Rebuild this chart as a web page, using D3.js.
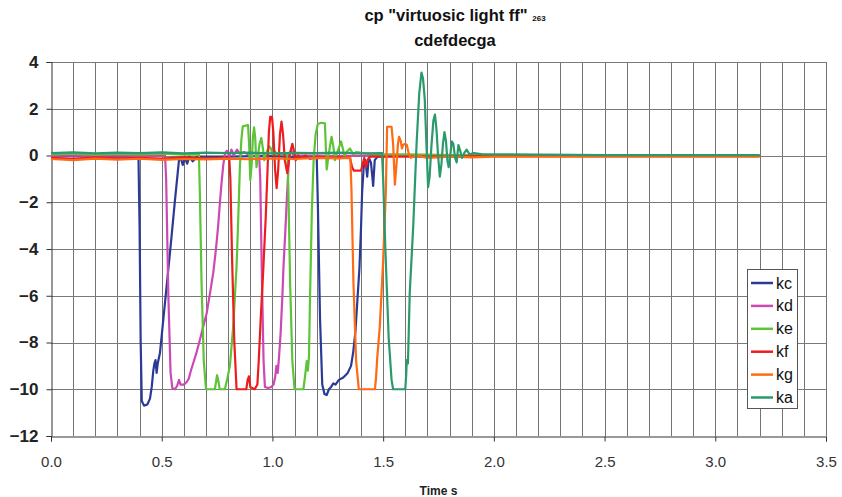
<!DOCTYPE html>
<html>
<head>
<meta charset="utf-8">
<script src="https://cdn.jsdelivr.net/npm/d3@7/dist/d3.min.js"></script>
<style>
  html, body { margin: 0; padding: 0; background: #fff; }
  svg { display: block; }
  text { font-family: "Liberation Sans", Arial, sans-serif; }
</style>
</head>
<body>
<svg id="chart" width="842" height="497"></svg>
<script>
// Key sensor traces, value vs time in seconds: [time, value]
const seriesNames = ["kc", "kd", "ke", "kf", "kg", "ka"];
const seriesColors = ["#2b3a96", "#cc48b4", "#5cc436", "#ee1c1c", "#ff6a13", "#2a9a6c"];

const kc = [
  [0,-0.05],[0.1,-0.02],[0.2,-0.07],[0.3,-0.03],[0.395,-0.05],
  [0.400,-3.0],[0.405,-8.0],[0.41,-10.5],[0.42,-10.7],[0.435,-10.65],[0.447,-10.4],[0.455,-9.9],[0.462,-9.2],
  [0.467,-8.9],[0.472,-8.75],[0.477,-9.3],[0.482,-8.9],[0.492,-8.45],[0.50,-7.7],[0.52,-5.8],[0.54,-3.9],
  [0.56,-1.9],[0.578,-0.2],[0.586,-0.1],[0.595,-0.4],[0.605,-0.1],[0.615,-0.35],[0.625,-0.05],[0.64,-0.25],
  [0.66,-0.05],[0.8,-0.05],[0.95,-0.02],[1.1,-0.06],[1.2,-0.05],
  [1.205,-2.0],[1.215,-7.0],[1.225,-9.8],[1.235,-10.2],[1.245,-10.25],[1.255,-10.0],[1.265,-9.9],[1.275,-9.75],
  [1.285,-9.8],[1.30,-9.6],[1.32,-9.5],[1.34,-9.3],[1.355,-9.0],[1.365,-8.4],[1.375,-7.5],[1.385,-6.0],
  [1.393,-4.8],[1.40,-3.1],[1.405,-1.6],[1.412,-0.5],[1.42,-0.2],[1.428,-0.9],[1.435,-0.1],[1.445,-0.3],
  [1.455,-1.3],[1.462,-0.2],[1.475,-0.05],[1.6,0.0],[2.0,-0.02],[3.2,-0.02]
];

const kd = [
  [0,-0.02],[0.1,0.0],[0.2,-0.04],[0.3,0.0],[0.4,-0.03],[0.515,0.0],
  [0.52,-1.0],[0.53,-6.0],[0.54,-9.3],[0.548,-9.95],[0.56,-10.0],[0.57,-9.85],[0.578,-9.6],[0.585,-9.8],
  [0.6,-9.8],[0.612,-9.7],[0.622,-9.55],[0.632,-9.2],[0.645,-8.8],[0.655,-8.5],[0.672,-7.9],[0.688,-7.3],
  [0.703,-6.75],[0.718,-5.9],[0.733,-5.0],[0.745,-4.0],[0.755,-3.0],[0.763,-2.0],[0.77,-1.2],[0.778,-0.4],
  [0.786,0.1],[0.795,0.2],[0.805,-0.05],[0.815,0.25],[0.825,0.0],[0.84,0.25],[0.855,0.05],[0.87,0.15],
  [0.9,0.0],[0.94,0.0],
  [0.945,-1.0],[0.952,-5.0],[0.96,-8.8],[0.966,-9.9],[0.98,-9.95],[0.995,-9.9],[1.005,-9.8],[1.012,-9.5],
  [1.018,-9.0],[1.024,-9.3],[1.03,-8.6],[1.037,-7.6],[1.045,-6.0],[1.05,-4.75],[1.058,-3.3],[1.065,-1.9],
  [1.072,-0.6],[1.077,0.1],[1.085,0.2],[1.095,0.0],[1.2,0.0],[1.3,-0.02],[1.5,0.0],[3.2,0.0]
];

const ke = [
  [0,0.05],[0.1,0.08],[0.2,0.04],[0.3,0.07],[0.4,0.05],[0.5,0.08],[0.6,0.04],[0.668,0.05],
  [0.672,-1.5],[0.68,-5.5],[0.69,-8.8],[0.70,-10.0],[0.72,-10.0],[0.74,-10.0],[0.745,-9.7],[0.75,-9.4],
  [0.755,-9.6],[0.762,-10.0],[0.785,-10.0],[0.795,-9.6],[0.808,-9.0],[0.823,-7.3],[0.838,-4.75],[0.846,-2.6],
  [0.853,-0.5],[0.86,0.7],[0.866,1.25],[0.89,1.3],[0.895,0.4],[0.90,-1.05],[0.906,-0.4],[0.912,0.8],
  [0.917,1.2],[0.922,0.8],[0.928,-0.5],[0.935,0.0],[0.942,0.5],[0.95,0.75],[0.957,0.3],[0.963,-0.2],
  [0.972,0.1],[0.985,0.4],[0.993,0.3],[1.0,0.05],[1.01,0.2],[1.02,0.05],[1.05,0.08],[1.068,0.05],
  [1.072,-1.5],[1.08,-5.5],[1.09,-8.8],[1.10,-10.0],[1.14,-10.0],[1.148,-9.4],[1.155,-8.8],[1.16,-9.2],
  [1.165,-8.6],[1.17,-6.0],[1.178,-2.4],[1.186,-0.2],[1.195,0.9],[1.205,1.35],[1.22,1.4],[1.237,1.38],
  [1.245,-0.6],[1.255,0.1],[1.267,0.8],[1.275,0.4],[1.282,-0.2],[1.295,0.2],[1.31,0.6],[1.318,0.3],
  [1.325,-0.05],[1.335,0.15],[1.35,0.3],[1.365,0.05],[1.38,0.15],[1.45,0.05],[1.6,0.05],[2.0,0.0],[3.2,0.0]
];

const kf = [
  [0,-0.1],[0.1,-0.14],[0.2,-0.08],[0.3,-0.12],[0.4,-0.1],[0.5,-0.13],[0.6,-0.08],[0.7,-0.12],[0.805,-0.1],
  [0.81,-1.0],[0.818,-4.5],[0.828,-8.0],[0.838,-10.0],[0.865,-10.0],[0.882,-10.0],[0.888,-9.6],[0.894,-9.45],
  [0.9,-9.9],[0.92,-10.0],[0.932,-9.8],[0.938,-8.8],[0.948,-6.8],[0.958,-5.0],[0.97,-2.6],[0.978,-0.6],
  [0.984,1.0],[0.99,1.65],[0.998,1.65],[1.004,1.0],[1.012,-0.6],[1.019,-1.4],[1.026,-0.6],[1.034,0.9],
  [1.041,1.45],[1.048,0.9],[1.056,-0.2],[1.067,-0.75],[1.077,0.0],[1.09,0.5],[1.097,0.2],[1.105,-0.2],
  [1.115,0.0],[1.13,-0.1],[1.15,0.0],[1.17,-0.15],[1.2,-0.05],[1.25,-0.1],[1.3,-0.08],[1.35,-0.1],
  [1.36,-0.5],[1.368,-0.65],[1.40,-0.65],[1.408,-0.35],[1.415,-0.1],[1.422,-0.5],[1.43,-0.2],[1.44,-0.05],
  [1.5,-0.05],[1.6,-0.05],[2.0,-0.03],[3.2,-0.03]
];

const kg = [
  [0,-0.15],[0.1,-0.2],[0.2,-0.13],[0.3,-0.18],[0.4,-0.14],[0.5,-0.19],[0.6,-0.15],[0.7,-0.17],[0.8,-0.13],
  [0.9,-0.16],[1.0,-0.12],[1.1,-0.15],[1.2,-0.1],[1.3,-0.12],[1.352,-0.1],
  [1.357,-1.5],[1.366,-5.5],[1.378,-8.8],[1.39,-10.0],[1.463,-10.0],[1.468,-9.5],[1.473,-8.7],[1.485,-7.3],
  [1.50,-4.5],[1.512,-1.6],[1.518,1.23],[1.538,1.23],[1.545,0.5],[1.553,-1.25],[1.56,-0.4],[1.567,0.5],
  [1.572,0.8],[1.58,0.6],[1.585,0.3],[1.59,0.45],[1.60,0.5],[1.607,0.45],[1.615,0.1],[1.625,-0.1],
  [1.65,0.0],[1.7,-0.1],[1.8,-0.05],[1.9,-0.08],[2.0,-0.05],[2.5,-0.05],[3.2,-0.05]
];

const ka = [
  [0,0.1],[0.1,0.13],[0.2,0.09],[0.3,0.12],[0.4,0.1],[0.5,0.13],[0.6,0.09],[0.7,0.12],[0.8,0.1],
  [0.9,0.12],[1.0,0.09],[1.1,0.11],[1.2,0.1],[1.3,0.12],[1.4,0.09],[1.495,0.1],
  [1.50,-1.0],[1.51,-4.0],[1.525,-7.8],[1.538,-9.6],[1.545,-10.0],[1.60,-10.0],[1.604,-9.4],[1.607,-8.75],
  [1.612,-8.9],[1.62,-5.9],[1.636,-3.0],[1.651,0.5],[1.663,2.65],[1.673,3.55],[1.68,3.3],[1.688,2.4],
  [1.695,0.6],[1.703,-1.35],[1.71,-0.9],[1.718,0.4],[1.727,1.5],[1.734,1.75],[1.741,1.1],[1.748,0.0],
  [1.756,-0.9],[1.763,-0.4],[1.77,0.5],[1.777,1.0],[1.784,0.6],[1.79,-0.2],[1.796,-0.5],[1.803,0.0],
  [1.81,0.6],[1.817,0.5],[1.825,-0.1],[1.832,-0.3],[1.84,0.45],[1.848,0.2],[1.856,-0.1],[1.866,0.1],
  [1.877,0.25],[1.89,0.05],[1.91,0.1],[1.95,0.05],[2.0,0.05],[2.5,0.02],[3.2,0.02]
];

const seriesData = [kc, kd, ke, kf, kg, ka];

// Axis tick values and labels
const timeTicks = [0, 0.5, 1.0, 1.5, 2.0, 2.5, 3.0, 3.5];
const valueTicks = [-12, -10, -8, -6, -4, -2, 0, 2, 4];
const titleMain = "cp \"virtuosic light ff\"";
const titleNote = "263";
const titleSub = "cdefdecga";
const xAxisTitle = "Time s";

const svg = d3.select("#chart");
const margin = { left: 51, right: 16, top: 62, bottom: 61 };
const W = 842, H = 497;

const x = d3.scaleLinear().domain([0, 3.5]).range([margin.left, W - margin.right]);
const y = d3.scaleLinear().domain([-12, 4]).range([H - margin.bottom, margin.top]);

// Gridlines: every 0.1 s vertically, every 2 units horizontally
const grid = svg.append("g").attr("class", "grid");
grid.selectAll("line.v")
  .data(x.ticks(35).filter(t => t > 0))
  .join("line")
  .attr("class", "v")
  .attr("x1", d => Math.round(x(d)) + 0.5).attr("x2", d => Math.round(x(d)) + 0.5)
  .attr("y1", y(4)).attr("y2", y(-12))
  .attr("stroke", "#747474").attr("stroke-width", 1);
grid.selectAll("line.h")
  .data(valueTicks.filter(v => v > -12))
  .join("line")
  .attr("class", "h")
  .attr("x1", x(0)).attr("x2", x(3.5))
  .attr("y1", d => Math.round(y(d)) + 0.5).attr("y2", d => Math.round(y(d)) + 0.5)
  .attr("stroke", "#7a7a7a").attr("stroke-width", 1);

// Axes
const xAxis = d3.axisBottom(x).tickValues(timeTicks).tickFormat(d3.format(".1f")).tickSize(5).tickPadding(15);
const yAxis = d3.axisLeft(y).tickValues(valueTicks).tickFormat(d3.format("d")).tickSize(5).tickPadding(8);

const gx = svg.append("g").attr("transform", `translate(0,${Math.round(y(-12)) + 0.5})`).call(xAxis);
gx.select(".domain").attr("stroke", "#333");
gx.selectAll(".tick line").attr("stroke", "#333");
gx.selectAll(".tick text").attr("font-size", 15).attr("fill", "#333")
  .attr("font-family", "'Liberation Sans', Arial, sans-serif");

const gy = svg.append("g").attr("transform", `translate(${Math.round(x(0)) + 0.5},0)`).call(yAxis);
gy.select(".domain").attr("stroke", "#333");
gy.selectAll(".tick line").attr("stroke", "#333");
gy.selectAll(".tick text").attr("font-size", 17).attr("font-weight", "bold").attr("fill", "#222")
  .attr("font-family", "'Liberation Sans', Arial, sans-serif");

// Traces
const line = d3.line().x(d => x(d[0])).y(d => y(d[1]));
svg.append("g").selectAll("path")
  .data(seriesData)
  .join("path")
  .attr("d", line)
  .attr("fill", "none")
  .attr("stroke", (d, i) => seriesColors[i])
  .attr("stroke-width", 2.2)
  .attr("stroke-linejoin", "round");

// Titles
const title = svg.append("text").attr("x", 455).attr("y", 21).attr("text-anchor", "middle")
  .attr("font-size", 16.5).attr("font-weight", "bold").attr("fill", "#111");
title.append("tspan").text(titleMain + " ");
title.append("tspan").attr("font-size", 8).text(titleNote);

svg.append("text").attr("x", 455).attr("y", 46).attr("text-anchor", "middle")
  .attr("font-size", 16.5).attr("font-weight", "bold").attr("fill", "#111").text(titleSub);

svg.append("text").attr("x", (x(0) + x(3.5)) / 2).attr("y", 495).attr("text-anchor", "middle")
  .attr("font-size", 12).attr("font-weight", "bold").attr("fill", "#222").text(xAxisTitle);

// Legend
const legend = svg.append("g").attr("transform", "translate(747,269)");
legend.append("rect").attr("x", 0.5).attr("y", 0.5).attr("width", 50).attr("height", 139)
  .attr("fill", "#fff").attr("stroke", "#555").attr("stroke-width", 1);
const items = legend.selectAll("g.item").data(seriesNames).join("g")
  .attr("class", "item")
  .attr("transform", (d, i) => `translate(0,${14 + i * 22.9})`);
items.append("line").attr("x1", 4).attr("x2", 26).attr("y1", 0).attr("y2", 0)
  .attr("stroke", (d, i) => seriesColors[i]).attr("stroke-width", 2.5);
items.append("text").attr("x", 29).attr("y", 5.5).attr("font-size", 16).attr("fill", "#111").text(d => d);
</script>
</body>
</html>
